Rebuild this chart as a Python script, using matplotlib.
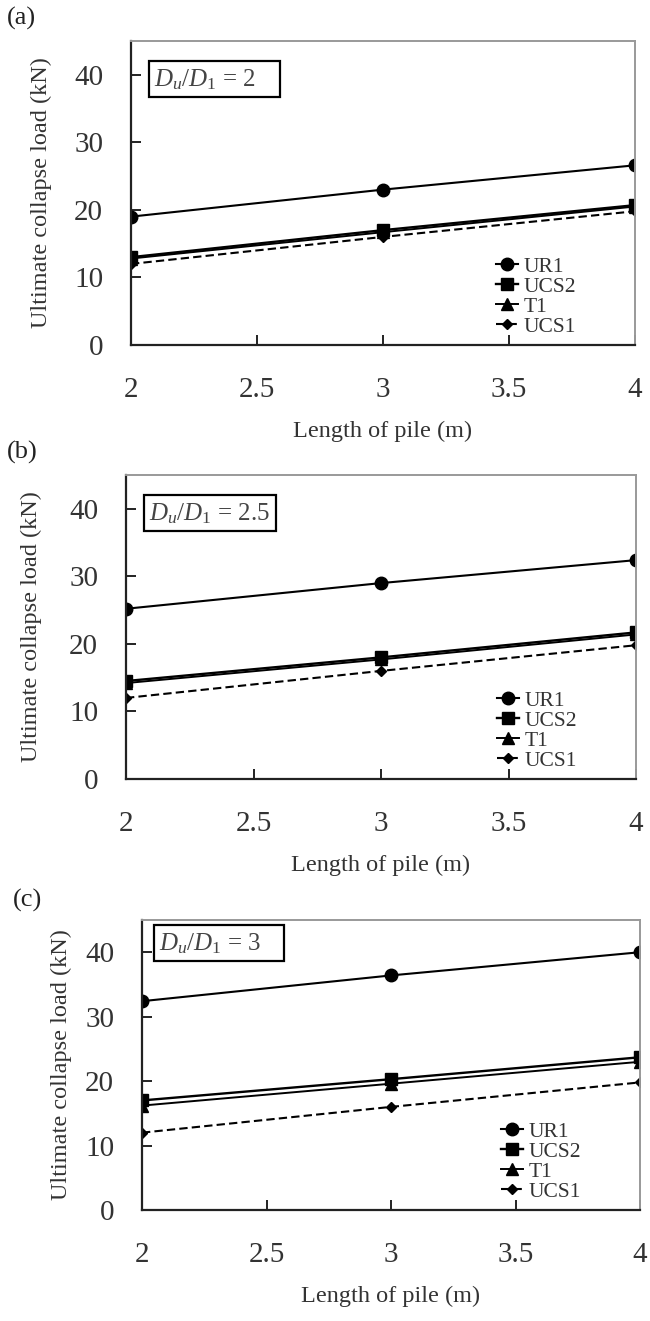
import matplotlib
matplotlib.use("Agg")
import matplotlib.pyplot as plt
from matplotlib.patches import Rectangle

plt.rcParams['font.family'] = ['Liberation Serif', 'DejaVu Serif']
plt.rcParams['mathtext.fontset'] = 'custom'
plt.rcParams['mathtext.rm'] = 'Liberation Serif'
plt.rcParams['mathtext.it'] = 'Liberation Serif:italic'

length = [2, 3, 4]
panel_labels = ["(a)", "(b)", "(c)"]
ratio_texts = [r"$D_u/D_1$ = 2", r"$D_u/D_1$ = 2.5", r"$D_u/D_1$ = 3"]

ur1 = [[19.0, 23.0, 26.6], [25.2, 29.0, 32.4], [32.4, 36.4, 40.0]]
ucs2 = [[13.0, 17.0, 20.7], [14.5, 18.0, 21.7], [17.0, 20.3, 23.7]]
t1 = [[12.8, 16.7, 20.5], [14.2, 17.7, 21.4], [16.2, 19.6, 23.0]]
ucs1 = [[12.0, 16.0, 19.8], [12.0, 16.0, 19.8], [12.0, 16.0, 19.8]]

series_names = ["UR1", "UCS2", "T1", "UCS1"]
xticks = [2, 2.5, 3, 3.5, 4]
xtick_labels = ["2", "2.5", "3", "3.5", "4"]
yticks = [0, 10, 20, 30, 40]

W, H = 650, 1321
fig = plt.figure(figsize=(W / 100, H / 100), dpi=100)

def fx(px):
    return px / W

def fy(py):
    return 1 - py / H

# axes boxes in pixels: left, right, top, bottom
boxes = [(131, 635, 41, 345), (126, 636, 475, 779), (142, 640, 920, 1210)]
label_pos = [(7, 18), (7, 452), (13, 900)]
ylabel_x = [52, 42, 72]
ratio_boxes = [(149, 61, 280, 97), (144, 495, 276, 531), (154, 925, 284, 961)]

for i in range(3):
    l, r, t, b = boxes[i]
    ax = fig.add_axes([fx(l), fy(b), (r - l) / W, (b - t) / H])
    ax.plot(length, ur1[i], color='black', lw=1.5, marker='o', ms=9, label=series_names[0])
    ax.plot(length, ucs2[i], color='black', lw=1.7, marker='s', ms=9, label=series_names[1])
    ax.plot(length, t1[i], color='black', lw=1.4, marker='^', ms=8, label=series_names[2])
    ax.plot(length, ucs1[i], color='black', lw=1.5, ls=(0, (4, 2)), marker='D', ms=5.5, label=series_names[3])
    ax.set_xlim(2, 4)
    ax.set_ylim(0, 45)
    ax.set_xticks(xticks)
    ax.set_xticklabels(xtick_labels)
    ax.set_yticks(yticks)
    for sp in ['left', 'bottom']:
        ax.spines[sp].set_linewidth(1.6)
        ax.spines[sp].set_color('#222222')
    for sp in ['right', 'top']:
        ax.spines[sp].set_linewidth(1.4)
        ax.spines[sp].set_color('#999999')
    ax.tick_params(direction='in', length=7, width=1.4, labelsize=21, pad=20,
                   colors='#222222', labelcolor='#333333')
    ax.tick_params(axis='x', pad=23)
    for lab in ax.get_xticklabels() + ax.get_yticklabels():
        lab.set_clip_on(False)
    ax.set_xlabel("Length of pile (m)", fontsize=17.5, color='#333333', labelpad=13)
    ax.set_ylabel("Ultimate collapse load (kN)", fontsize=17.5, color='#333333')
    ax.yaxis.set_label_coords((ylabel_x[i] - l) / (r - l), 0.5)

    bx0, by0, bx1, by1 = ratio_boxes[i]
    fig.patches.append(Rectangle((fx(bx0), fy(by1)), (bx1 - bx0) / W, (by1 - by0) / H,
                                 transform=fig.transFigure, fill=True, fc='white',
                                 ec='black', lw=1.6, zorder=5))
    fig.text(fx(bx0 + 5), fy((by0 + by1) / 2 + 1), ratio_texts[i], fontsize=18,
             color='#444444', va='center', ha='left', zorder=6)

    # legend placed in pixels relative to lower-right corner
    lx = (r - 139 - l) / (r - l)
    ly = 8 / (b - t)
    leg = ax.legend(loc='lower left', bbox_to_anchor=(lx, ly), frameon=False,
                    fontsize=15.5, handlelength=1.0, handletextpad=0.3,
                    labelspacing=0.0, borderaxespad=0.0, borderpad=0.0)
    for txt in leg.get_texts():
        txt.set_color('#333333')
    fig.text(fx(label_pos[i][0]), fy(label_pos[i][1]), panel_labels[i], fontsize=19,
             va='center', ha='left', color='#222222')

fig.savefig("out.png", dpi=100, facecolor='white')
